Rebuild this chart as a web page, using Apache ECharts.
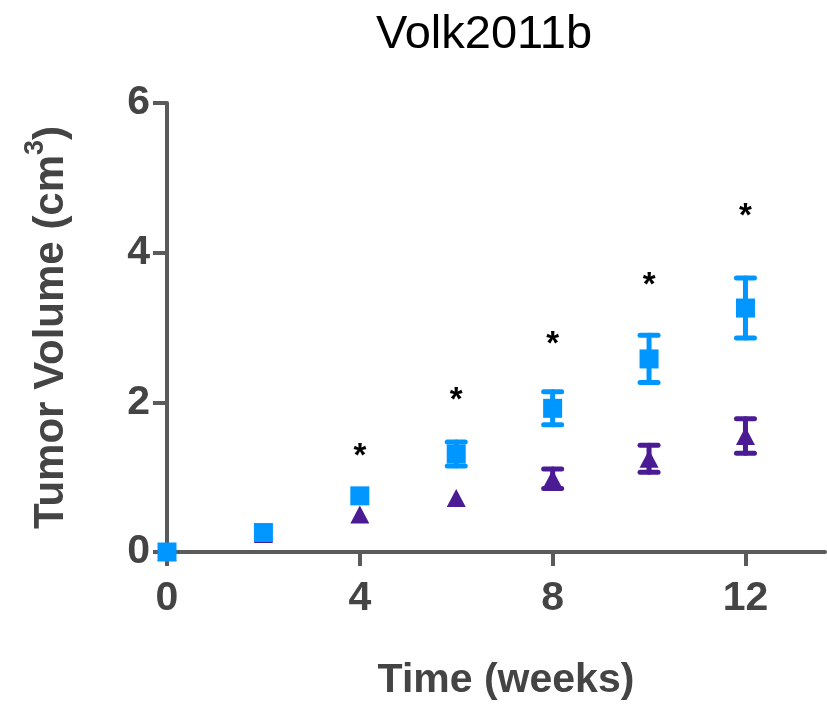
<!DOCTYPE html>
<html>
<head>
<meta charset="utf-8">
<script src="https://cdn.jsdelivr.net/npm/echarts@6/dist/echarts.min.js"></script>
<style>
  html, body { margin: 0; padding: 0; background: #fff; }
  #main { width: 827px; height: 706px; }
</style>
</head>
<body>
<div id="main"></div>
<script>
var weeks = [0, 2, 4, 6, 8, 10, 12];
var blueMean = [0, 0.26, 0.75, 1.31, 1.92, 2.58, 3.26];
var blueErr = [0, 0, 0, 0.16, 0.22, 0.315, 0.40];
var purpleMean = [0, 0.24, 0.50, 0.72, 0.98, 1.245, 1.55];
var purpleErr = [0, 0, 0, 0, 0.13, 0.18, 0.23];
var starWeeks = [4, 6, 8, 10, 12];
var starY = [1.38, 2.12, 2.88, 3.66, 4.58];
var xTicks = [0, 4, 8, 12];
var yTicks = [0, 2, 4, 6];

var chartDom = document.getElementById('main');
var myChart = echarts.init(chartDom);

var axisColor = '#5a5a5a';
var labelColor = '#444444';
var blue = '#0096ff';
var purple = '#4b1b93';

function pairs(xs, ys) {
  return xs.map(function (x, i) { return [x, ys[i]]; });
}

function errData(means, errs) {
  var out = [];
  weeks.forEach(function (x, i) {
    if (errs[i] > 0) out.push([x, means[i] - errs[i], means[i] + errs[i]]);
  });
  return out;
}

function errorSeries(means, errs, color) {
  return {
    type: 'custom',
    data: errData(means, errs),
    z: 2,
    silent: true,
    renderItem: function (params, api) {
      var x = api.value(0);
      var lo = api.coord([x, api.value(1)]);
      var hi = api.coord([x, api.value(2)]);
      var w = 9;
      var style = { stroke: color, lineWidth: 5, lineCap: 'round' };
      return {
        type: 'group',
        children: [
          { type: 'line', shape: { x1: lo[0], y1: lo[1], x2: hi[0], y2: hi[1] }, style: style },
          { type: 'line', shape: { x1: lo[0] - w, y1: lo[1], x2: lo[0] + w, y2: lo[1] }, style: style },
          { type: 'line', shape: { x1: hi[0] - w, y1: hi[1], x2: hi[0] + w, y2: hi[1] }, style: style }
        ]
      };
    }
  };
}

var option = {
  animation: false,
  backgroundColor: '#ffffff',
  title: {
    text: 'Volk2011b',
    left: 479,
    top: 7,
    textAlign: 'center',
    textStyle: {
      fontFamily: 'Liberation Sans',
      fontWeight: 'normal',
      fontSize: 47,
      color: '#000000'
    }
  },
  grid: {
    left: 167,
    right: 2,
    top: 103,
    bottom: 153,
    containLabel: false
  },
  xAxis: {
    type: 'value',
    min: 0,
    max: 13.65,
    interval: 4,
    name: 'Time (weeks)',
    nameLocation: 'middle',
    nameGap: 108,
    nameTextStyle: {
      fontFamily: 'Liberation Sans',
      fontWeight: 'bold',
      fontSize: 41,
      color: labelColor,
      padding: [0, 0, 0, 20]
    },
    splitLine: { show: false },
    axisLine: { onZero: false, lineStyle: { color: axisColor, width: 4 } },
    axisTick: {
      customValues: xTicks,
      length: 14,
      lineStyle: { color: axisColor, width: 4 }
    },
    axisLabel: {
      customValues: xTicks,
      margin: 26,
      fontFamily: 'Liberation Sans',
      fontWeight: 'bold',
      fontSize: 41,
      color: labelColor
    }
  },
  yAxis: {
    type: 'value',
    min: 0,
    max: 6,
    interval: 2,
    name: '{a|Tumor Volume (cm}{sup|3}{a|)}',
    nameLocation: 'middle',
    nameGap: 95,
    nameTextStyle: {
      fontFamily: 'Liberation Sans',
      fontWeight: 'bold',
      fontSize: 42,
      color: labelColor,
      rich: {
        a: {
          fontFamily: 'Liberation Sans',
          fontWeight: 'bold',
          fontSize: 42,
          color: labelColor,
          lineHeight: 50,
          verticalAlign: 'bottom'
        },
        sup: {
          fontFamily: 'Liberation Sans',
          fontWeight: 'bold',
          fontSize: 27,
          color: labelColor,
          lineHeight: 50,
          verticalAlign: 'top'
        }
      }
    },
    splitLine: { show: false },
    axisLine: { show: true, lineStyle: { color: axisColor, width: 4 } },
    axisTick: {
      show: true,
      customValues: yTicks,
      length: 14,
      lineStyle: { color: axisColor, width: 4 }
    },
    axisLabel: {
      customValues: yTicks,
      margin: 17,
      fontFamily: 'Liberation Sans',
      fontWeight: 'bold',
      fontSize: 41,
      color: labelColor
    }
  },
  series: [
    errorSeries(purpleMean, purpleErr, purple),
    {
      type: 'scatter',
      data: pairs(weeks, purpleMean),
      symbol: 'triangle',
      symbolSize: [19, 18],
      itemStyle: { color: purple, opacity: 1 },
      z: 3
    },
    errorSeries(blueMean, blueErr, blue),
    {
      type: 'scatter',
      data: pairs(weeks, blueMean),
      symbol: 'rect',
      symbolSize: 19,
      itemStyle: { color: blue, opacity: 1 },
      z: 4
    },
    {
      type: 'custom',
      data: pairs(starWeeks, starY),
      z: 5,
      silent: true,
      renderItem: function (params, api) {
        var p = api.coord([api.value(0), api.value(1)]);
        return {
          type: 'text',
          x: p[0],
          y: p[1] + 8,
          style: {
            text: '*',
            fill: '#000000',
            font: 'bold 33px "Liberation Sans"',
            align: 'center',
            verticalAlign: 'middle'
          }
        };
      }
    }
  ]
};

option && myChart.setOption(option);
</script>
</body>
</html>
